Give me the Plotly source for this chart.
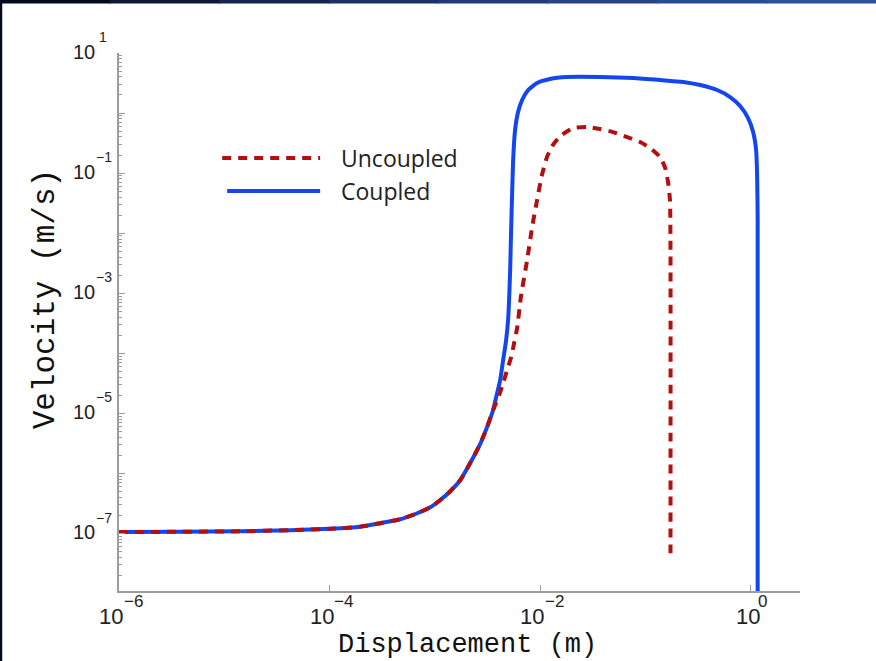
import math
import plotly.graph_objects as go

# ---------------- data ----------------
# shared low-velocity branch (both curves overlap here)
common_x = [1.0e-6, 3.81e-6, 1.42e-5, 4.23e-5, 1.01e-4, 1.95e-4, 3.03e-4, 4.69e-4, 6.80e-4, 9.03e-4,
            1.12e-3, 1.40e-3, 1.74e-3, 2.16e-3, 2.69e-3, 3.13e-3, 3.57e-3]
common_y = [1.06e-7, 1.07e-7, 1.09e-7, 1.14e-7, 1.20e-7, 1.30e-7, 1.49e-7, 1.73e-7, 2.18e-7, 2.74e-7,
            3.59e-7, 5.07e-7, 7.73e-7, 1.48e-6, 3.08e-6, 5.91e-6, 1.13e-5]

coupled_x = [3.90e-3, 4.17e-3, 4.45e-3, 4.75e-3, 4.96e-3, 5.07e-3, 5.19e-3, 5.30e-3, 5.42e-3, 5.54e-3,
             5.78e-3, 6.17e-3, 6.74e-3, 7.69e-3, 9.35e-3, 1.24e-2, 1.80e-2, 3.71e-2, 7.64e-2, 0.138,
             0.228, 0.331, 0.480, 0.637, 0.793, 0.944, 1.054, 1.125, 1.15, 1.164, 1.164]
coupled_y = [2.17e-5, 3.58e-5, 7.71e-5, 1.66e-4, 3.57e-4, 7.69e-4, 2.43e-3, 1.13e-2, 4.66e-2, 0.165,
             0.522, 1.04, 1.65, 2.42, 3.16, 3.69, 3.98, 3.98, 3.83, 3.55,
             3.29, 2.93, 2.42, 1.85, 1.31, 0.826, 0.483, 0.242, 0.0929, 0.0166, 5.0e-9]

uncoupled_x = [4.08e-3, 4.45e-3, 4.85e-3, 5.30e-3, 5.66e-3, 6.04e-3, 6.60e-3, 7.52e-3, 8.39e-3, 9.35e-3,
               1.04e-2, 1.16e-2, 1.30e-2, 1.55e-2, 2.06e-2, 2.79e-2, 3.71e-2, 4.93e-2, 6.70e-2, 8.90e-2,
               0.111, 0.138, 0.154, 0.164, 0.171, 0.173, 0.173]
uncoupled_y = [2.01e-5, 3.19e-5, 5.25e-5, 8.65e-5, 1.48e-4, 2.63e-4, 9.31e-4, 3.56e-3, 1.26e-2, 3.56e-2,
               9.29e-2, 0.185, 0.282, 0.415, 0.564, 0.586, 0.542, 0.483, 0.399, 0.329,
               0.262, 0.185, 0.122, 0.0710, 0.0356, 5.24e-3, 4.70e-8]

x_tick_vals = [1e-6, 1e-4, 1e-2, 1e0]
x_tick_exps = ["−6", "−4", "−2", "0"]
y_label_vals = [1e-7, 1e-5, 1e-3, 1e-1, 1e1]
y_label_exps = ["−7", "−5", "−3", "−1", "1"]
y_decades = [1e-7, 1e-6, 1e-5, 1e-4, 1e-3, 1e-2, 1e-1, 1e0, 1e1]

x_title = "Displacement (m)"
y_title = "Velocity (m/s)"
legend_labels = ["Uncoupled", "Coupled"]

RED = "#b30f0f"
BLUE = "#1446f0"
AXIS = "#9c9c9c"
TXT = "#222222"
DASH = "9px,7px"

fig = go.Figure()

fig.add_trace(go.Scatter(x=common_x + coupled_x, y=common_y + coupled_y, mode="lines",
                         line=dict(color=BLUE, width=4, shape="spline", smoothing=0.5),
                         name=legend_labels[1], showlegend=False))
fig.add_trace(go.Scatter(x=common_x + uncoupled_x, y=common_y + uncoupled_y, mode="lines",
                         line=dict(color=RED, width=4, dash=DASH, shape="spline", smoothing=0.5),
                         name=legend_labels[0], showlegend=False))

y_minor = []
for d in [1e-8] + y_decades[:-1]:
    for m in range(2, 10):
        v = d * m
        if v >= 1.2e-8:
            y_minor.append(v)

fig.update_xaxes(type="log", range=[-6, 0.468], tickmode="array", tickvals=x_tick_vals,
                 showticklabels=False, ticks="inside", ticklen=6, tickwidth=1, tickcolor=AXIS,
                 showline=True, linecolor=AXIS, linewidth=2, showgrid=False, zeroline=False)
fig.update_yaxes(type="log", range=[-7.956, 1.0], tickmode="array", tickvals=y_decades,
                 showticklabels=False, ticks="inside", ticklen=6, tickwidth=1, tickcolor=AXIS,
                 minor=dict(tickvals=y_minor, ticks="inside", ticklen=3, tickcolor=AXIS, tickwidth=1),
                 showline=True, linecolor=AXIS, linewidth=2, showgrid=False, zeroline=False)

W = 681.2
H = 537.7
def px(x):
    return (x - 118.8) / W
def py(y):
    return (590.7 - y) / H

annotations = []
# x tick labels: "10" with raised exponent
for v, e in zip(x_tick_vals, x_tick_exps):
    neg = e.startswith("−")
    annotations.append(dict(text="10", xref="x", yref="paper", x=math.log10(v), y=0,
                            xanchor="center", yanchor="middle", xshift=-8 if neg else -3, yshift=-25,
                            showarrow=False, font=dict(family="Liberation Sans", size=22, color=TXT)))
    annotations.append(dict(text=e, xref="x", yref="paper", x=math.log10(v), y=0,
                            xanchor="center", yanchor="middle", xshift=14 if neg else 12, yshift=-10,
                            showarrow=False, font=dict(family="Liberation Sans", size=17, color=TXT)))
# y tick labels
for v, e in zip(y_label_vals, y_label_exps):
    neg = e.startswith("−")
    annotations.append(dict(text="10", xref="paper", yref="y", x=0, y=math.log10(v),
                            xanchor="right", yanchor="middle", xshift=-22, yshift=1.5,
                            showarrow=False, font=dict(family="Liberation Sans", size=20, color=TXT)))
    annotations.append(dict(text=e, xref="paper", yref="y", x=0, y=math.log10(v),
                            xanchor="left", yanchor="middle", xshift=-25 if neg else -22, yshift=16,
                            showarrow=False, font=dict(family="Liberation Sans", size=14, color=TXT)))
# axis titles
annotations.append(dict(text=x_title, xref="paper", yref="paper", x=px(467), y=0, xanchor="center",
                        yanchor="middle", yshift=-54, showarrow=False,
                        font=dict(family="Liberation Mono", size=27, color="#111")))
annotations.append(dict(text=y_title, xref="paper", yref="paper", x=px(45), y=py(299), xanchor="center",
                        yanchor="middle", textangle=-90, showarrow=False,
                        font=dict(family="Liberation Mono", size=31, color="#111")))
# legend text
for lab, yy in zip(legend_labels, [158, 191]):
    annotations.append(dict(text=lab, xref="paper", yref="paper", x=px(339), y=py(yy), xanchor="left",
                            yanchor="middle", showarrow=False,
                            font=dict(family="Open Sans", size=23, color=TXT)))

shapes = [
    dict(type="line", xref="paper", yref="paper", x0=px(222), x1=px(320), y0=py(158), y1=py(158),
         line=dict(color=RED, width=4, dash=DASH)),
    dict(type="line", xref="paper", yref="paper", x0=px(227), x1=px(320), y0=py(191), y1=py(191),
         line=dict(color=BLUE, width=4)),
]
# slide frame strips
grad = ["#05091c", "#0d1736", "#15244f", "#1c2f66", "#223a7a", "#27438a", "#2b4a96", "#2e4f9e"]
n = len(grad)
for i, c in enumerate(grad):
    shapes.append(dict(type="rect", xref="paper", yref="paper", layer="above",
                       x0=px(i * 876 / n), x1=px((i + 1) * 876 / n + 1), y0=py(3.5), y1=py(-1),
                       fillcolor=c, line=dict(width=0)))
shapes.append(dict(type="rect", xref="paper", yref="paper", layer="above",
                   x0=px(-1), x1=px(2), y0=py(662), y1=py(0), fillcolor="#060a1e", line=dict(width=0)))

fig.update_layout(width=876, height=661, margin=dict(l=119, r=76, t=53, b=70),
                  paper_bgcolor="white", plot_bgcolor="white", shapes=shapes,
                  annotations=annotations, showlegend=False)

fig.write_html("out.html")
